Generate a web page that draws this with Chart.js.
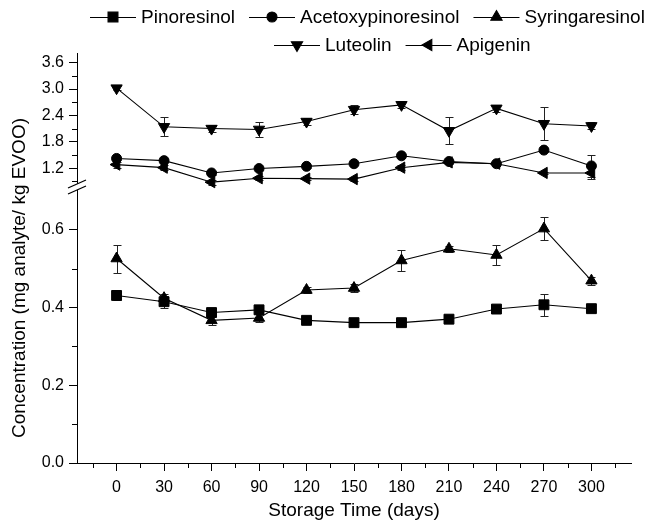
<!DOCTYPE html>
<html><head><meta charset="utf-8">
<script src="https://cdn.jsdelivr.net/npm/chart.js@4.4.0/dist/chart.umd.min.js"></script>
<style>html,body{margin:0;padding:0;background:#fff;}</style>
</head><body>
<canvas id="c" width="656" height="528"></canvas>
<script>
// ---- data ----
const days = [0, 30, 60, 90, 120, 150, 180, 210, 240, 270, 300];
const pinoresinol      = [0.431, 0.415, 0.387, 0.394, 0.367, 0.361, 0.361, 0.370, 0.396, 0.407, 0.397];
const pinoresinolErr   = [0.012, 0.015, 0.008, 0.006, 0.004, 0.004, 0.004, 0.005, 0.006, 0.028, 0.006];
const syringaresinol   = [0.526, 0.424, 0.367, 0.373, 0.445, 0.450, 0.521, 0.551, 0.535, 0.603, 0.469];
const syringaresinolErr= [0.036, 0.012, 0.012, 0.010, 0.008, 0.010, 0.026, 0.008, 0.026, 0.030, 0.010];
const acetoxypinoresinol    = [1.42, 1.37, 1.09, 1.19, 1.24, 1.30, 1.48, 1.35, 1.30, 1.61, 1.25];
const acetoxypinoresinolErr = [0.04, 0.03, 0.04, 0.04, 0.03, 0.03, 0.03, 0.03, 0.04, 0.04, 0.25];
const luteolin    = [3.02, 2.14, 2.10, 2.08, 2.26, 2.53, 2.64, 2.05, 2.56, 2.21, 2.16];
const luteolinErr = [0.05, 0.22, 0.08, 0.17, 0.08, 0.10, 0.08, 0.31, 0.08, 0.37, 0.08];
const apigenin    = [1.28, 1.21, 0.88, 0.97, 0.96, 0.95, 1.21, 1.33, 1.30, 1.09, 1.09];
const apigeninErr = [0.07, 0.05, 0.06, 0.05, 0.04, 0.04, 0.06, 0.04, 0.04, 0.03, 0.13];

const xTicks = [0, 30, 60, 90, 120, 150, 180, 210, 240, 270, 300];
const xMinorTicks = [-15, 15, 45, 75, 105, 135, 165, 195, 225, 255, 285, 315];
const yLowTicks = [0.0, 0.2, 0.4, 0.6];
const yLowMinor = [0.1, 0.3, 0.5];
const yHighTicks = [1.2, 1.8, 2.4, 3.0, 3.6];
const yHighMinor = [0.9, 1.5, 2.1, 2.7, 3.3];

const xTitle = 'Storage Time (days)';
const yTitle = 'Concentration (mg analyte/ kg EVOO)';

// ---- chart ----
const FONT = "'Liberation Sans', Arial, sans-serif";
Chart.defaults.color = '#000';
Chart.defaults.font.family = FONT;

const pts = (vals) => days.map((d, i) => ({x: d, y: vals[i]}));

function ds(label, vals, errs, axis, style, rot, radius) {
  return {
    label, data: pts(vals), errors: errs, yAxisID: axis,
    borderColor: '#000', backgroundColor: '#000', borderWidth: 1.1,
    pointStyle: style, rotation: rot, pointRadius: radius, pointHoverRadius: radius,
    pointBackgroundColor: '#000', pointBorderColor: '#000', pointBorderWidth: 1,
    tension: 0, fill: false, clip: false
  };
}

const datasets = [
  ds('Pinoresinol', pinoresinol, pinoresinolErr, 'yLow', 'rect', 0, 7),
  ds('Acetoxypinoresinol', acetoxypinoresinol, acetoxypinoresinolErr, 'yHigh', 'circle', 0, 5),
  ds('Syringaresinol', syringaresinol, syringaresinolErr, 'yLow', 'triangle', 0, 6.5),
  ds('Luteolin', luteolin, luteolinErr, 'yHigh', 'triangle', 180, 6.5),
  ds('Apigenin', apigenin, apigeninErr, 'yHigh', 'triangle', 270, 6.5)
];

const errorBars = {
  id: 'errorBars',
  beforeDatasetsDraw(chart) {
    const ctx = chart.ctx, xs = chart.scales.x;
    ctx.save();
    ctx.strokeStyle = '#222'; ctx.lineWidth = 1;
    chart.data.datasets.forEach(d => {
      const ys = chart.scales[d.yAxisID];
      d.data.forEach((p, j) => {
        const e = d.errors[j]; if (!e) return;
        const px = Math.round(xs.getPixelForValue(p.x)) + 0.5;
        const y1 = Math.round(ys.getPixelForValue(p.y + e)) + 0.5;
        const y2 = Math.round(ys.getPixelForValue(p.y - e)) + 0.5;
        ctx.beginPath();
        ctx.moveTo(px, y1); ctx.lineTo(px, y2);
        ctx.moveTo(px - 4, y1); ctx.lineTo(px + 4, y1);
        ctx.moveTo(px - 4, y2); ctx.lineTo(px + 4, y2);
        ctx.stroke();
      });
    });
    ctx.restore();
  }
};

const decorations = {
  id: 'decorations',
  afterDraw(chart) {
    const ctx = chart.ctx;
    const xs = chart.scales.x, yl = chart.scales.yLow, yh = chart.scales.yHigh;
    ctx.save();
    ctx.strokeStyle = '#000'; ctx.lineWidth = 1;
    // minor ticks
    ctx.beginPath();
    xMinorTicks.forEach(v => {
      const p = Math.round(xs.getPixelForValue(v)) + 0.5;
      ctx.moveTo(p, xs.top); ctx.lineTo(p, xs.top + 5);
    });
    yLowMinor.forEach(v => {
      const p = Math.round(yl.getPixelForValue(v)) + 0.5;
      ctx.moveTo(yl.right, p); ctx.lineTo(yl.right - 5, p);
    });
    yHighMinor.forEach(v => {
      const p = Math.round(yh.getPixelForValue(v)) + 0.5;
      ctx.moveTo(yh.right, p); ctx.lineTo(yh.right - 5, p);
    });
    ctx.stroke();
    // axis break symbol
    const bx = yl.right, by = (yl.top + yh.bottom) / 2;
    ctx.fillStyle = '#fff';
    ctx.beginPath();
    ctx.moveTo(bx - 9, by + 1); ctx.lineTo(bx + 9, by - 7);
    ctx.lineTo(bx + 9, by - 1); ctx.lineTo(bx - 9, by + 7); ctx.closePath();
    ctx.fill();
    ctx.lineWidth = 1.3;
    ctx.beginPath();
    ctx.moveTo(bx - 9, by + 1); ctx.lineTo(bx + 9, by - 7);
    ctx.moveTo(bx - 9, by + 7); ctx.lineTo(bx + 9, by - 1);
    ctx.stroke();
    // y title
    ctx.fillStyle = '#000';
    ctx.font = '19px ' + FONT;
    ctx.textAlign = 'center'; ctx.textBaseline = 'middle';
    ctx.translate(20, 278); ctx.rotate(-Math.PI / 2);
    ctx.fillText(yTitle, 0, 0);
    ctx.restore();
    // legend
    ctx.save();
    ctx.font = '19px ' + FONT;
    ctx.textBaseline = 'middle'; ctx.textAlign = 'left';
    const rows = [[0, 1, 2], [3, 4]];
    const rowY = [17, 45];
    const rowX = [90, 274];
    const lineLen = 46;
    rows.forEach((row, r) => {
      let x = rowX[r];
      const y = rowY[r];
      row.forEach(i => {
        const d = chart.data.datasets[i];
        ctx.strokeStyle = '#000'; ctx.lineWidth = 1.1;
        ctx.beginPath(); ctx.moveTo(x, y + 0.5); ctx.lineTo(x + lineLen, y + 0.5); ctx.stroke();
        ctx.fillStyle = '#000';
        Chart.helpers.drawPoint(ctx, {pointStyle: d.pointStyle, rotation: d.rotation, radius: d.pointRadius, borderWidth: 1}, x + lineLen / 2, y);
        x += lineLen + 5;
        ctx.fillStyle = '#000';
        ctx.fillText(d.label, x, y + 1);
        x += ctx.measureText(d.label).width + 14;
      });
    });
    ctx.restore();
  }
};

new Chart(document.getElementById('c'), {
  type: 'line',
  data: { datasets },
  options: {
    responsive: false, animation: false, devicePixelRatio: 1,
    layout: { padding: { top: 53, right: 25, left: 0, bottom: 0 } },
    plugins: { legend: { display: false }, tooltip: { enabled: false } },
    scales: {
      x: {
        type: 'linear', min: -25, max: 325,
        afterBuildTicks: s => { s.ticks = xTicks.map(v => ({value: v})); },
        afterFit: s => { s.height = 65; },
        grid: { drawOnChartArea: false, drawTicks: true, tickLength: 8, color: '#000', tickWidth: 1 },
        border: { color: '#000', width: 1 },
        ticks: { font: { size: 16 }, padding: 7, maxRotation: 0, autoSkip: false, callback: v => String(v) },
        title: { display: true, text: xTitle, font: { size: 19 }, padding: { top: 0, bottom: 6 } }
      },
      yLow: {
        type: 'linear', position: 'left', stack: 'y', stackWeight: 276,
        min: 0, max: 0.71,
        afterBuildTicks: s => { s.ticks = yLowTicks.map(v => ({value: v})); },
        afterFit: s => { s.width = 77; },
        grid: { drawOnChartArea: false, drawTicks: true, tickLength: 8, color: '#000' },
        border: { color: '#000', width: 1 },
        ticks: { font: { size: 16 }, padding: 5, autoSkip: false, callback: v => Number(v).toFixed(1) }
      },
      yHigh: {
        type: 'linear', position: 'left', stack: 'y', stackWeight: 134,
        min: 0.77, max: 3.82,
        afterBuildTicks: s => { s.ticks = yHighTicks.map(v => ({value: v})); },
        afterFit: s => { s.width = 77; },
        grid: { drawOnChartArea: false, drawTicks: true, tickLength: 8, color: '#000' },
        border: { color: '#000', width: 1 },
        ticks: { font: { size: 16 }, padding: 5, autoSkip: false, callback: v => Number(v).toFixed(1) }
      }
    }
  },
  plugins: [errorBars, decorations]
});
</script>
</body></html>
